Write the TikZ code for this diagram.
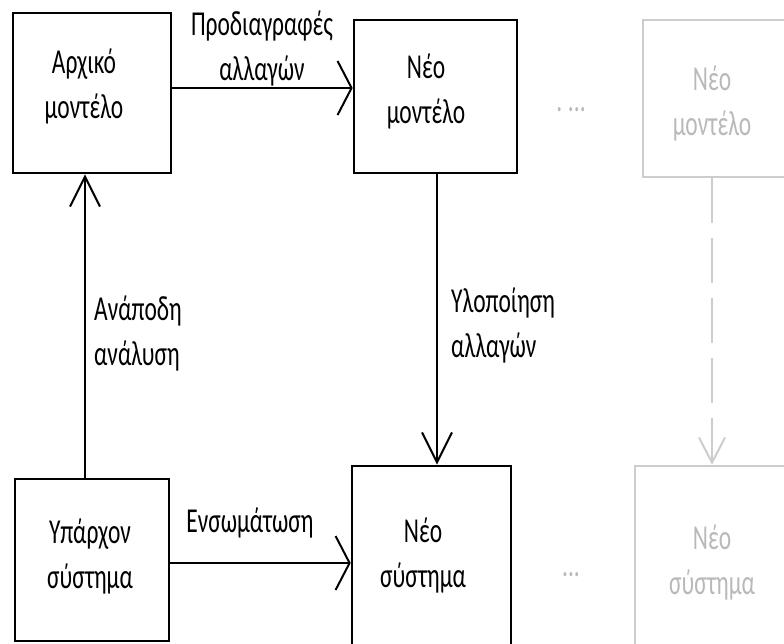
\documentclass[tikz,border=0pt]{standalone}
\usepackage{fontspec}
\setmainfont{Carlito}[FakeStretch=0.67]
\usetikzlibrary{arrows.meta}
\newcommand\dfont{\fontsize{35}{45}\selectfont}
\definecolor{lgray}{RGB}{205,205,205}
\definecolor{tgray}{RGB}{185,185,185}
\tikzset{
  box/.style={draw, line width=2.6pt, inner sep=0pt},
  gbox/.style={box, draw=lgray},
  txt/.style={font=\dfont, align=center, inner sep=0pt},
  gtxt/.style={txt, text=tgray},
  lbl/.style={font=\dfont, align=left, inner sep=0pt, anchor=west},
  harr/.style={line width=2pt, -{Straight Barb[length=14pt,width=54pt]}},
  varr/.style={line width=2pt, -{Straight Barb[length=30pt,width=30pt]}},
  garr/.style={line width=2pt, draw=lgray, dash pattern=on 45pt off 15pt, -{Straight Barb[length=25pt,width=26pt]}},
  dots/.style={font=\dfont, text=tgray, inner sep=0pt}
}
\begin{document}
\begin{tikzpicture}[x=1pt,y=-1pt]
\useasboundingbox (0,0) rectangle (784,643);
\clip (0,0) rectangle (784,643);
\fill[white] (0,0) rectangle (784,643);
% boxes
\node[box, minimum width=158pt, minimum height=160pt] (b1) at (92,93) {};
\node[box, minimum width=163pt, minimum height=153pt] (b2) at (435.5,96.5) {};
\node[gbox, minimum width=143pt, minimum height=157pt] (b3) at (714.5,98.5) {};
\node[box, minimum width=154pt, minimum height=162pt] (b4) at (92,560) {};
\node[box, minimum width=159pt, minimum height=180pt] (b5) at (431.5,556) {};
\node[gbox, minimum width=151pt, minimum height=194pt] (b6) at (710.5,563) {};
% box texts
\node[txt] (t1) at (84,86) {Αρχικό\\μοντέλο};
\node[txt] (t2) at (426,91) {Νέο\\μοντέλο};
\node[gtxt] (t3) at (712,103) {Νέο\\μοντέλο};
\node[txt] (t4) at (90,556) {Υπάρχον\\σύστημα};
\node[txt] (t5) at (423,555) {Νέο\\σύστημα};
\node[gtxt] (t6) at (712,562) {Νέο\\σύστημα};
% dots
\node[dots] (d1) at (571,110) {.\,...};
\node[dots] (d2) at (571,575) {...};
% connectors
\draw[harr] (b1.east |- 0,88) -- (b2.west |- 0,88);
\draw[harr] (b4.east |- 0,563) -- (b5.west |- 0,563);
\draw[varr] (b4.north -| 85,0) -- (b1.south -| 85,0);
\draw[varr] (b2.south -| 437,0) -- (b5.north -| 437,0);
\draw[garr] (b3.south -| 712,0) -- (b6.north -| 712,0);
% labels
\node[txt] (l1) at (262,48) {Προδιαγραφές\\αλλαγών};
\node[txt] (l2) at (250,523) {Ενσωμάτωση};
\node[lbl] (l3) at (94,333) {Ανάποδη\\ανάλυση};
\node[lbl] (l4) at (451,325) {Υλοποίηση\\αλλαγών};
\end{tikzpicture}
\end{document}
